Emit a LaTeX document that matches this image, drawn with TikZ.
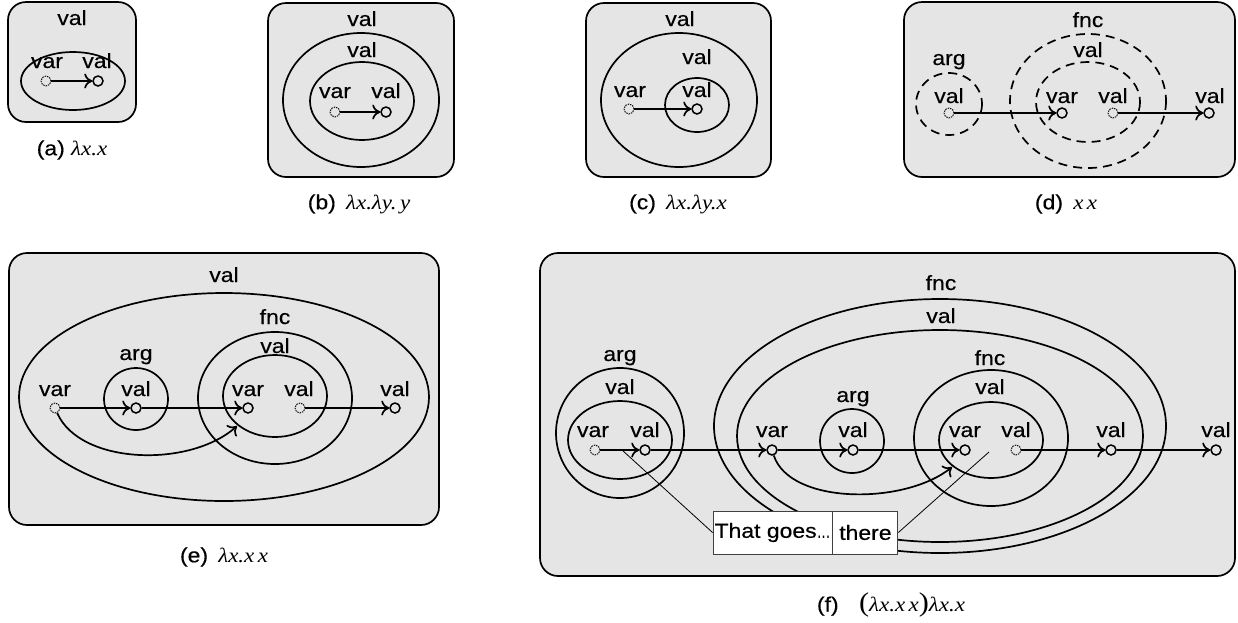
\documentclass[tikz,border=0pt]{standalone}
\usepackage{fontspec}
\setmainfont{Liberation Sans}[FakeStretch=1.12,FakeBold=0.4]
\newfontfamily\lamfont{Liberation Serif}[FakeStretch=1.12]
\usetikzlibrary{arrows.meta,positioning}

\newcommand{\lam}[1]{{\lamfont\itshape #1}}
\newcommand{\bigpar}[1]{{\lamfont\upshape\fontsize{27}{27}\selectfont #1}}

\begin{document}
\begin{tikzpicture}
	[x=1pt,y=-1pt,line width=1.7pt,
	every node/.style={font=\fontsize{20.5}{24}\selectfont},
	panel/.style={draw,fill=black!10,rounded corners=18pt},
	lbl/.style={anchor=base,inner sep=0pt},
	pt/.style={circle,draw,inner sep=0pt,minimum size=10pt,line width=1.5pt},
	st/.style={pt,densely dotted,line width=0.9pt},
	flow/.style={-{To[length=8pt,width=15pt]}},
	capt/.style={inner sep=0pt},
	dashline/.style={dash pattern=on 9pt off 6pt},
	callbox/.style={draw=black!75,fill=white,line width=0.9pt,minimum height=43pt,inner sep=0pt},
	pointer/.style={line width=0.8pt}]
	\useasboundingbox (0,0) rectangle (1238,622);

	\draw[panel] (8,2) rectangle (136,122);
	\node[lbl] (a0) at (72,25) {val};
	\draw (73,81) ellipse [x radius=52,y radius=29];
	\node[lbl] (a1) at (47,68) {var};
	\node[lbl] (a2) at (97,68) {val};
	\node[st] (a3) at (46,81) {};
	\node[pt] (a4) at (98,81) {};
	\draw[flow] (a3) -- (a4);
	\node[capt] (acap) at (72,150) {(a) \lam{λx.x}};

	\draw[panel] (268,3) rectangle (454,177);
	\node[lbl] (b0) at (362,26) {val};
	\draw (361,100) ellipse [x radius=78,y radius=67];
	\node[lbl] (b1) at (362,57) {val};
	\draw (362,101) ellipse [x radius=52,y radius=39];
	\node[lbl] (b2) at (335,98) {var};
	\node[lbl] (b3) at (386,98) {val};
	\node[st] (b4) at (335,112) {};
	\node[pt] (b5) at (386,112) {};
	\draw[flow] (b4) -- (b5);
	\node[capt] (bcap) at (359,204) {(b)\enspace\lam{λx.λy.\,y}};

	\draw[panel] (586,3) rectangle (771,177);
	\node[lbl] (c0) at (680,26) {val};
	\draw (679,100) ellipse [x radius=78,y radius=67];
	\node[lbl] (c1) at (697,64) {val};
	\draw (697,105) ellipse [x radius=32,y radius=27];
	\node[lbl] (c2) at (630,97) {var};
	\node[lbl] (c3) at (697,97) {val};
	\node[st] (c4) at (629,109) {};
	\node[pt] (c5) at (697,109) {};
	\draw[flow] (c4) -- (c5);
	\node[capt] (ccap) at (678,204) {(c)\enspace\lam{λx.λy.x}};

	\draw[panel] (904,2) rectangle (1235,177);
	\node[lbl] (d0) at (1088,27) {fnc};
	\draw[dashline] (1088,101) ellipse [x radius=78,y radius=67];
	\node[lbl] (d1) at (1088,57) {val};
	\draw[dashline] (1088,102) ellipse [x radius=52,y radius=40];
	\node[lbl] (d2) at (949,65) {arg};
	\draw[dashline] (949,104) ellipse [x radius=33,y radius=31];
	\node[lbl] (d3) at (949,103) {val};
	\node[lbl] (d4) at (1062,103) {var};
	\node[lbl] (d5) at (1113,103) {val};
	\node[lbl] (d6) at (1210,103) {val};
	\node[st] (d7) at (949,113) {};
	\node[pt] (d8) at (1062,113) {};
	\node[st] (d9) at (1113,113) {};
	\node[pt] (d10) at (1209,113) {};
	\draw[flow] (d7) -- (d8);
	\draw[flow] (d9) -- (d10);
	\node[capt] (dcap) at (1066,204) {(d)\enspace\lam{x\,x}};

	\draw[panel] (9,253) rectangle (439,525);
	\node[lbl] (e0) at (224,282) {val};
	\draw (224,397) ellipse [x radius=205,y radius=104];
	\node[lbl] (e1) at (275,324) {fnc};
	\draw (275,398) ellipse [x radius=77,y radius=66];
	\node[lbl] (e2) at (275,353) {val};
	\draw (275,396) ellipse [x radius=52,y radius=41];
	\node[lbl] (e3) at (136,360) {arg};
	\draw (136,399) ellipse [x radius=32,y radius=31];
	\node[lbl] (e4) at (55,396) {var};
	\node[lbl] (e5) at (136,396) {val};
	\node[lbl] (e6) at (248,396) {var};
	\node[lbl] (e7) at (299,396) {val};
	\node[lbl] (e8) at (395,396) {val};
	\node[st] (e10) at (55,408) {};
	\node[pt] (e11) at (136,408) {};
	\node[pt] (e12) at (248,408) {};
	\node[st] (e13) at (300,408) {};
	\node[pt] (e14) at (395,408) {};
	\coordinate (e15) at (237,426);
	\draw[flow] (e10) -- (e11);
	\draw[flow] (e11) -- (e12);
	\draw[flow] (e13) -- (e14);
	\draw[flow] (e10) .. controls (80,465) and (190,468) .. (e15);
	\node[capt] (ecap) at (224,557) {(e)\enspace\lam{λx.x\,x}};

	\draw[panel] (540,253) rectangle (1235,576);
	\node[lbl] (f0) at (941,290) {fnc};
	\draw (940,426) ellipse [x radius=226,y radius=127];
	\node[lbl] (f1) at (941,323) {val};
	\draw (940,436) ellipse [x radius=203,y radius=106];
	\node[lbl] (f2) at (620,361) {arg};
	\draw (620,433) ellipse [x radius=64,y radius=65];
	\node[lbl] (f3) at (620,394) {val};
	\draw (620,440) ellipse [x radius=52,y radius=39];
	\node[lbl] (f4) at (990,365) {fnc};
	\draw (991,438) ellipse [x radius=77,y radius=68];
	\node[lbl] (f5) at (990,394) {val};
	\draw (991,440) ellipse [x radius=52,y radius=38];
	\node[lbl] (f6) at (853,402) {arg};
	\draw (852,441) circle [radius=32];
	\node[lbl] (f7) at (593,437) {var};
	\node[lbl] (f8) at (645,437) {val};
	\node[lbl] (f9) at (772,437) {var};
	\node[lbl] (f10) at (853,437) {val};
	\node[lbl] (f11) at (965,437) {var};
	\node[lbl] (f12) at (1016,437) {val};
	\node[lbl] (f13) at (1111,437) {val};
	\node[lbl] (f14) at (1216,437) {val};
	\node[st] (f20) at (595,450) {};
	\node[pt] (f21) at (645,450) {};
	\node[pt] (f22) at (772,450) {};
	\node[pt] (f23) at (853,450) {};
	\node[pt] (f24) at (965,450) {};
	\node[st] (f25) at (1016,450) {};
	\node[pt] (f26) at (1111,450) {};
	\node[pt] (f27) at (1216,450) {};
	\coordinate (f28) at (952,467);
	\draw[flow] (f20) -- (f21);
	\draw[flow] (f21) -- (f22);
	\draw[flow] (f22) -- (f23);
	\draw[flow] (f23) -- (f24);
	\draw[flow] (f25) -- (f26);
	\draw[flow] (f26) -- (f27);
	\draw[flow] (f22) .. controls (790,505) and (905,505) .. (f28);
	\node[callbox,minimum width=119pt] (goes) at (772.5,532.5) {That goes\scalebox{0.6}[1]{…}};
	\node[callbox,minimum width=65pt,right=0pt of goes] (there) {there};
	\coordinate (p1) at (622,450);
	\coordinate (p2) at (989,452);
	\draw[pointer] (goes.west) -- (p1);
	\draw[pointer] (there.east) -- (p2);
	\node[capt] (fcap) at (891,605) {(f)\quad\bigpar{(}\lam{λx.x\,x}\bigpar{)}\lam{λx.x}};
\end{tikzpicture}
\end{document}
